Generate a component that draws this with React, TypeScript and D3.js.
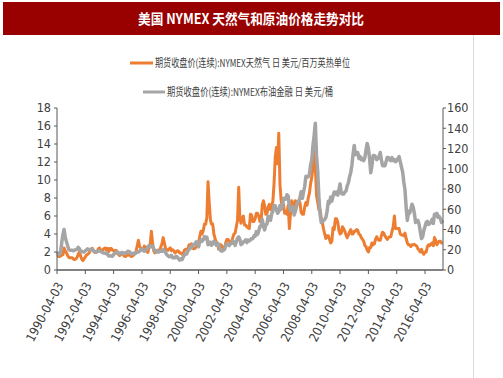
import React from "react";
import * as d3 from "d3";

// ---- data (monthly, from 1990-04 to 2017-07) ----
const gas1990 = [1.5, 1.55, 1.5, 1.55, 1.65, 1.7, 2.45, 2.1, 1.9];
const gas1991 = [1.6, 1.4, 1.35, 1.35, 1.35, 1.2, 1.15, 1.25, 1.4, 1.75, 2.05, 1.55];
const gas1992 = [1.2, 1.05, 1.25, 1.45, 1.65, 1.75, 1.85, 2.1, 2.35, 2.4, 2.1, 1.95];
const gas1993 = [2.0, 2.0, 2.35, 2.45, 2.25, 2.15, 2.25, 2.4, 2.45, 2.2, 2.4, 2.05];
const gas1994 = [2.4, 2.4, 2.2, 2.2, 1.95, 2.2, 1.9, 1.75, 1.6, 1.75, 1.8, 1.7];
const gas1995 = [1.55, 1.5, 1.6, 1.7, 1.65, 1.65, 1.5, 1.55, 1.7, 1.85, 2.1, 2.7];
const gas1996 = [3.3, 2.6, 2.45, 2.35, 2.3, 2.65, 2.55, 2.1, 1.95, 2.5, 2.9, 4.3];
const gas1997 = [3.0, 2.1, 1.9, 2.0, 2.2, 2.2, 2.2, 2.55, 2.95, 3.6, 3.0, 2.4];
const gas1998 = [2.2, 2.2, 2.35, 2.45, 2.15, 2.25, 2.15, 1.9, 2.0, 2.15, 2.1, 1.9];
const gas1999 = [1.9, 1.75, 1.8, 2.2, 2.3, 2.3, 2.35, 2.8, 2.6, 2.9, 2.4, 2.35];
const gas2000 = [2.4, 2.6, 2.8, 3.05, 3.7, 4.3, 4.0, 4.4, 5.1, 5.1, 5.8, 9.8];
const gas2001 = [7.5, 5.6, 5.1, 5.1, 4.0, 3.5, 3.1, 3.0, 2.3, 2.8, 2.8, 2.6];
const gas2002 = [2.3, 2.3, 3.0, 3.4, 3.4, 3.2, 3.0, 3.0, 3.6, 4.0, 4.1, 4.8];
const gas2003 = [5.5, 9.2, 5.9, 5.2, 5.8, 6.0, 5.0, 5.0, 4.8, 4.7, 4.6, 6.2];
const gas2004 = [6.1, 5.4, 5.4, 5.7, 6.3, 6.3, 6.0, 5.4, 5.4, 7.2, 7.7, 7.1];
const gas2005 = [6.2, 6.3, 7.0, 7.3, 6.7, 7.2, 7.6, 9.6, 12.5, 13.6, 11.8, 15.2];
const gas2006 = [9.5, 7.7, 7.0, 7.3, 6.3, 6.5, 6.2, 7.2, 4.6, 6.4, 7.7, 7.3];
const gas2007 = [6.6, 7.7, 7.1, 7.6, 7.7, 7.5, 6.4, 6.2, 6.2, 7.0, 7.5, 7.2];
const gas2008 = [8.0, 8.6, 9.6, 10.3, 11.4, 13.2, 11.5, 8.3, 7.5, 6.7, 6.7, 5.8];
const gas2009 = [5.2, 4.5, 4.0, 3.5, 3.8, 3.8, 3.4, 3.0, 3.2, 4.7, 4.5, 5.7];
const gas2010 = [5.7, 5.3, 4.4, 4.0, 4.1, 4.8, 4.6, 4.3, 3.9, 3.6, 3.9, 4.2];
const gas2011 = [4.5, 4.0, 4.0, 4.3, 4.3, 4.5, 4.4, 4.0, 3.9, 3.6, 3.4, 3.2];
const gas2012 = [2.7, 2.6, 2.2, 2.0, 2.5, 2.5, 3.0, 2.8, 2.9, 3.4, 3.7, 3.4];
const gas2013 = [3.3, 3.3, 3.8, 4.2, 4.1, 3.8, 3.6, 3.4, 3.6, 3.7, 3.7, 4.3];
const gas2014 = [4.8, 6.0, 4.6, 4.6, 4.6, 4.6, 4.0, 3.9, 3.9, 3.8, 4.1, 3.5];
const gas2015 = [3.0, 2.8, 2.8, 2.6, 2.8, 2.8, 2.85, 2.75, 2.65, 2.35, 2.2, 2.0];
const gas2016 = [2.3, 1.9, 1.75, 2.0, 2.0, 2.6, 2.8, 2.7, 2.9, 3.0, 2.7, 3.6];
const gas2017 = [3.3, 2.8, 3.0, 3.2, 3.2, 3.0, 2.95];

const oil1990 = [17.5, 16.5, 15.5, 17.5, 27, 35, 40, 32, 28];
const oil1991 = [24, 20, 19.5, 19.5, 19.5, 19, 19.8, 20, 20.6, 22.5, 21, 18.5];
const oil1992 = [18.2, 18, 17.7, 19, 19.9, 21, 20, 19.7, 20.4, 20.2, 19, 18.2];
const oil1993 = [17.6, 18.5, 18.8, 18.7, 18.5, 17.7, 16.8, 16.8, 16.3, 16.8, 15.2, 13.8];
const oil1994 = [14.2, 13.8, 13.5, 15.3, 16.5, 17, 18.3, 17.3, 16, 16.7, 17.4, 15.9];
const oil1995 = [16.6, 17.1, 17, 18.6, 18.4, 17.3, 15.9, 16.1, 16.6, 16.1, 16.9, 17.9];
const oil1996 = [17.9, 18.6, 19.9, 21, 19.2, 18.6, 19.7, 20.4, 22.5, 24.2, 22.8, 23.7];
const oil1997 = [23.5, 20.8, 19.2, 17.6, 19.1, 17.6, 18.5, 18.6, 18.4, 20.1, 19.3, 17.1];
const oil1998 = [15.1, 14.1, 13.1, 13.4, 14.4, 12.1, 12.4, 12.1, 13.5, 12.8, 11, 9.8];
const oil1999 = [11.1, 10.3, 12.5, 15.3, 15.3, 15.9, 19.1, 20.3, 22.5, 22, 24.6, 25.5];
const oil2000 = [25.5, 27.8, 27.5, 22.8, 27.3, 29.8, 28.5, 30, 33, 30.9, 32.5, 25];
const oil2001 = [25.6, 27.5, 24.5, 25.6, 28.4, 27.7, 24.5, 25.7, 25.6, 20.5, 18.9, 18.6];
const oil2002 = [19.4, 20.3, 23.7, 25.7, 25.4, 24.1, 25.7, 26.3, 28.4, 27.5, 24.3, 28];
const oil2003 = [31.2, 32.8, 30.4, 25, 25.8, 27.6, 28.4, 29.8, 27.1, 29.6, 28.8, 29.8];
const oil2004 = [31.2, 30.9, 33.8, 33.4, 37.9, 35.2, 38.4, 43, 43.3, 49.8, 43.1, 39.6];
const oil2005 = [44.5, 45.5, 53.1, 51.9, 49, 55.6, 57.9, 63.8, 63.5, 59.5, 56, 57.7];
const oil2006 = [63.6, 59.9, 62.3, 70.4, 70.9, 69.9, 74.4, 73, 62.5, 58.5, 59.4, 62.3];
const oil2007 = [54.3, 57.8, 62.1, 67.5, 67.5, 71.3, 77.2, 70.8, 77.1, 82.4, 92.5, 91.5];
const oil2008 = [92.2, 94.9, 103.6, 109, 122.8, 133, 145, 113.2, 97.2, 72, 55, 47];
const oil2009 = [48, 49, 50, 52, 58, 68, 66, 72, 68, 73, 77, 75];
const oil2010 = [77, 74, 79, 85, 76, 75, 75, 77, 78, 83, 86, 92];
const oil2011 = [96, 104, 114, 123, 114, 114, 116, 110, 112, 109, 110, 108];
const oil2012 = [111, 119, 125, 120, 110, 96, 103, 113, 113, 112, 109, 110];
const oil2013 = [112, 116, 109, 103, 103, 103, 107, 111, 111, 109, 108, 111];
const oil2014 = [108, 109, 107, 108, 110, 112, 107, 102, 97, 87, 79, 62];
const oil2015 = [49, 58, 56, 60, 65, 62, 56, 47, 48, 49, 45, 38];
const oil2016 = [31, 33, 39, 43, 47, 48, 45, 46, 47, 50, 46, 55];
const oil2017 = [55, 56, 52, 53, 51, 47, 49];

const gasValues = [
  gas1990, gas1991, gas1992, gas1993, gas1994, gas1995, gas1996, gas1997, gas1998, gas1999,
  gas2000, gas2001, gas2002, gas2003, gas2004, gas2005, gas2006, gas2007, gas2008, gas2009,
  gas2010, gas2011, gas2012, gas2013, gas2014, gas2015, gas2016, gas2017,
].flat();
const oilValues = [
  oil1990, oil1991, oil1992, oil1993, oil1994, oil1995, oil1996, oil1997, oil1998, oil1999,
  oil2000, oil2001, oil2002, oil2003, oil2004, oil2005, oil2006, oil2007, oil2008, oil2009,
  oil2010, oil2011, oil2012, oil2013, oil2014, oil2015, oil2016, oil2017,
].flat();

const startDate = new Date(1990, 3, 3);
const endDate = new Date(2017, 6, 11);
const xTickLabels = [
  "1990-04-03", "1992-04-03", "1994-04-03", "1996-04-03", "1998-04-03", "2000-04-03",
  "2002-04-03", "2004-04-03", "2006-04-03", "2008-04-03", "2010-04-03", "2012-04-03",
  "2014-04-03", "2016-04-03",
];
const leftTicks = [0, 2, 4, 6, 8, 10, 12, 14, 16, 18];
const rightTicks = [0, 20, 40, 60, 80, 100, 120, 140, 160];

const title = "美国 NYMEX 天然气和原油价格走势对比";
const gasName = "期货收盘价(连续):NYMEX天然气 日 美元/百万英热单位";
const oilName = "期货收盘价(连续):NYMEX布油金融 日 美元/桶";

const ORANGE = "#ED7D31";
const GRAY = "#A5A5A5";
const AXIS = "#595959";
const TXT = "#404040";
const NARROW = "'Liberation Sans Narrow', 'Arial Narrow', 'DejaVu Sans Condensed', sans-serif";

export default function App() {
  const W = 503, H = 378;
  const x = d3.scaleTime().domain([startDate, endDate]).range([57, 443]);
  const yL = d3.scaleLinear().domain([0, 18]).range([270, 108]);
  const yR = d3.scaleLinear().domain([0, 160]).range([270, 108]);
  const dateAt = (i: number) => d3.timeMonth.offset(startDate, i);
  const parse = d3.timeParse("%Y-%m-%d");

  const gasLine = d3.line<number>().x((_, i) => x(dateAt(i))).y((v) => yL(v));
  const oilLine = d3.line<number>().x((_, i) => x(dateAt(i))).y((v) => yR(v));

  return (
    <svg width={W} height={H} style={{ position: "absolute", left: 0, top: 0, background: "#fff" }}>
      <rect x={3} y={2} width={497} height={33} fill="#990000" />
      <text x={251} y={24} textAnchor="middle" fill="#fff" fontSize={14} fontWeight="bold"
        fontFamily="'Noto Sans CJK SC', sans-serif" textLength={226} lengthAdjust="spacingAndGlyphs">{title}</text>
      <line x1={473.5} x2={473.5} y1={35} y2={378} stroke="#D9D9D9" />

      {/* legend */}
      <line x1={130} x2={153} y1={63} y2={63} stroke={ORANGE} strokeWidth={3} />
      <text x={155} y={67} fill={TXT} fontSize={11} fontFamily="'Noto Sans CJK SC', sans-serif"
        textLength={195} lengthAdjust="spacingAndGlyphs">{gasName}</text>
      <line x1={143} x2={165} y1={92} y2={92} stroke={GRAY} strokeWidth={3} />
      <text x={167} y={96} fill={TXT} fontSize={11} fontFamily="'Noto Sans CJK SC', sans-serif"
        textLength={166} lengthAdjust="spacingAndGlyphs">{oilName}</text>

      {/* series */}
      <path d={gasLine(gasValues) || ""} fill="none" stroke={ORANGE} strokeWidth={3} strokeLinejoin="round" />
      <path d={oilLine(oilValues) || ""} fill="none" stroke={GRAY} strokeWidth={3.5} strokeLinejoin="round" />

      {/* left axis */}
      <line x1={57} x2={57} y1={108} y2={270} stroke={AXIS} />
      {leftTicks.map((t) => (
        <g key={"l" + t}>
          <line x1={54} x2={57} y1={yL(t)} y2={yL(t)} stroke={AXIS} />
          <text x={51} y={yL(t)} dy="0.35em" textAnchor="end" fontSize={12.5} fill={TXT} fontFamily={NARROW}>{t}</text>
        </g>
      ))}
      {/* right axis */}
      <line x1={443} x2={443} y1={108} y2={270} stroke={AXIS} />
      {rightTicks.map((t) => (
        <g key={"r" + t}>
          <line x1={443} x2={446} y1={yR(t)} y2={yR(t)} stroke={AXIS} />
          <text x={447} y={yR(t)} dy="0.35em" textAnchor="start" fontSize={12.5} fill={TXT} fontFamily={NARROW}>{t}</text>
        </g>
      ))}
      {/* x axis */}
      <line x1={57} x2={443} y1={270} y2={270} stroke={AXIS} strokeWidth={1.5} />
      {xTickLabels.map((s) => {
        const px = x(parse(s) as Date);
        return (
          <g key={s}>
            <line x1={px} x2={px} y1={270} y2={274} stroke={AXIS} />
            <text transform={`translate(${px + 3},${283}) rotate(-62)`} textAnchor="end" dy="0.35em"
              fontSize={12.5} fill={TXT} fontFamily={NARROW}>{s}</text>
          </g>
        );
      })}
    </svg>
  );
}
